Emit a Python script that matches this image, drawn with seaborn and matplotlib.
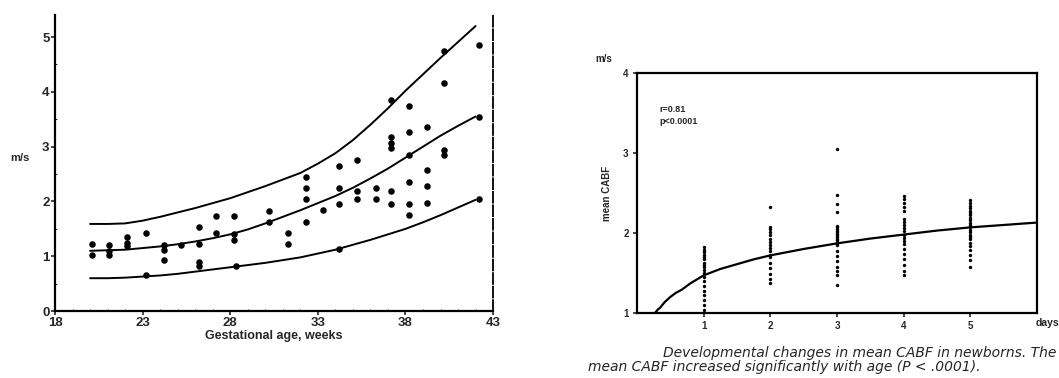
import numpy as np
import pandas as pd
import matplotlib
matplotlib.use("Agg")
import matplotlib.pyplot as plt
import seaborn as sns

# ---------------- Left panel data (gestational age vs velocity) ----------------
ga_weeks = [20.1, 20.1, 21.1, 21.1, 21.1, 22.1, 22.1, 22.1, 23.2, 23.2,
            24.2, 24.2, 24.2, 25.2, 26.2, 26.2, 26.2, 26.2, 27.2, 27.2,
            28.2, 28.2, 28.2, 28.3, 30.2, 30.2, 31.3, 31.3, 32.3, 32.3,
            32.3, 32.3, 33.3, 34.2, 34.2, 34.2, 34.2, 35.25, 35.25, 35.25,
            36.3, 36.3, 37.2, 37.2, 37.2, 37.2, 37.2, 37.2, 38.2, 38.2,
            38.2, 38.2, 38.2, 38.2, 39.25, 39.25, 39.25, 39.25, 40.2, 40.2,
            40.2, 40.2, 42.2, 42.2, 42.2]
ga_velocity = [1.22, 1.02, 1.20, 1.10, 1.02, 1.35, 1.25, 1.18, 1.42, 0.66,
               1.20, 1.12, 0.93, 1.20, 1.53, 1.22, 0.90, 0.82, 1.73, 1.42,
               1.73, 1.40, 1.30, 0.83, 1.83, 1.63, 1.42, 1.22, 2.45, 2.25,
               2.05, 1.63, 1.84, 2.65, 2.25, 1.96, 1.14, 2.75, 2.20, 2.05,
               2.25, 2.05, 3.85, 3.17, 3.07, 2.97, 2.20, 1.96, 3.74, 3.27,
               2.85, 2.35, 1.96, 1.76, 3.36, 2.57, 2.28, 1.98, 4.75, 4.16,
               2.94, 2.85, 4.86, 3.54, 2.05]

curve_weeks = [20, 21, 22, 23, 24, 25, 26, 27, 28, 29, 30, 31,
               32, 33, 34, 35, 36, 37, 38, 39, 40, 41, 42]
upper_curve = [1.59, 1.59, 1.60, 1.65, 1.72, 1.80, 1.88, 1.97, 2.06, 2.17, 2.28, 2.40,
               2.52, 2.69, 2.88, 3.12, 3.40, 3.70, 4.02, 4.32, 4.62, 4.91, 5.20]
middle_curve = [1.10, 1.11, 1.12, 1.15, 1.18, 1.22, 1.27, 1.33, 1.40, 1.49, 1.60, 1.72,
                1.84, 1.97, 2.10, 2.25, 2.42, 2.60, 2.80, 3.00, 3.20, 3.38, 3.55]
lower_curve = [0.60, 0.60, 0.61, 0.63, 0.65, 0.68, 0.72, 0.76, 0.80, 0.84, 0.88, 0.93,
               0.98, 1.05, 1.12, 1.21, 1.30, 1.40, 1.50, 1.62, 1.75, 1.89, 2.03]

left_xticks = [18, 23, 28, 33, 38, 43]
left_xticklabels = ["18", "23", "28", "33", "38", "43"]
left_yticks = [0, 1, 2, 3, 4, 5]

# ---------------- Right panel data (postnatal days vs mean CABF) ----------------
day1 = [1.82, 1.79, 1.76, 1.73, 1.70, 1.67, 1.63, 1.60, 1.57, 1.54, 1.50,
        1.45, 1.40, 1.34, 1.28, 1.22, 1.16, 1.10, 1.04]
day2 = [2.33, 2.08, 2.05, 2.01, 1.97, 1.93, 1.89, 1.85, 1.81, 1.77, 1.73,
        1.70, 1.62, 1.56, 1.49, 1.43, 1.38]
day3 = [3.05, 2.48, 2.36, 2.26, 2.09, 2.07, 2.05, 2.03, 2.01, 1.99, 1.97,
        1.95, 1.93, 1.91, 1.89, 1.87, 1.85, 1.77, 1.71, 1.65, 1.58, 1.52,
        1.47, 1.35]
day4 = [2.46, 2.42, 2.38, 2.33, 2.28, 2.18, 2.14, 2.10, 2.06, 2.02, 1.98,
        1.94, 1.90, 1.86, 1.80, 1.74, 1.67, 1.60, 1.53, 1.47]
day5 = [2.41, 2.37, 2.34, 2.31, 2.28, 2.25, 2.22, 2.19, 2.16, 2.13, 2.10,
        2.07, 2.04, 2.01, 1.98, 1.95, 1.92, 1.88, 1.84, 1.79, 1.72, 1.66, 1.58]

fit_days = [0.27, 0.31, 0.35, 0.42, 0.50, 0.58, 0.67, 0.80, 0.90, 1.0, 1.25, 1.5,
            1.75, 2.0, 2.5, 3.0, 3.5, 4.0, 4.5, 5.0, 5.5, 6.0]
fit_cabf = [1.00, 1.04, 1.07, 1.14, 1.20, 1.25, 1.29, 1.37, 1.42, 1.47, 1.55, 1.61,
            1.67, 1.72, 1.80, 1.87, 1.93, 1.98, 2.03, 2.07, 2.10, 2.13]

right_xticks = [1, 2, 3, 4, 5]
right_yticks = [1, 2, 3, 4]

# ---------------- Build frames ----------------
left_df = pd.DataFrame({"week": ga_weeks, "vel": ga_velocity})
curves_df = pd.DataFrame({
    "week": curve_weeks * 3,
    "vel": upper_curve + middle_curve + lower_curve,
    "curve": ["upper"] * len(curve_weeks) + ["middle"] * len(curve_weeks) + ["lower"] * len(curve_weeks),
})
day_lists = [day1, day2, day3, day4, day5]
right_df = pd.DataFrame({
    "day": [d + 1 for d, vals in enumerate(day_lists) for _ in vals],
    "cabf": [v for vals in day_lists for v in vals],
})
fit_df = pd.DataFrame({"day": fit_days, "cabf": fit_cabf})

# ---------------- Style ----------------
sns.set_theme(style="ticks")
plt.rcParams["font.family"] = ["Liberation Sans", "DejaVu Sans"]
plt.rcParams["axes.linewidth"] = 1.6
plt.rcParams["axes.edgecolor"] = "black"

fig = plt.figure(figsize=(10.59, 3.78), dpi=100)
fig.patch.set_facecolor("white")

# ---------------- Left panel ----------------
ax1 = fig.add_axes([0.052, 0.177, 0.4136, 0.783])
sns.lineplot(data=curves_df, x="week", y="vel", units="curve", estimator=None,
             color="black", linewidth=1.4, sort=True, ax=ax1)
sns.scatterplot(data=left_df, x="week", y="vel", color="black", s=22,
                edgecolor="black", linewidth=0, ax=ax1)
ax1.set_xlim(18, 43)
ax1.set_ylim(0, 5.4)
ax1.set_xticks(left_xticks)
ax1.set_xticklabels(left_xticklabels)
ax1.set_yticks(left_yticks)
ax1.set_xticks(np.arange(18, 43.5, 1), minor=True)
ax1.set_yticks(np.arange(0, 5.5, 0.5), minor=True)
ax1.tick_params(axis="both", which="major", length=3, width=1.2, labelsize=9.5, pad=1)
ax1.tick_params(axis="both", which="minor", length=1.5, width=0.7, direction="in")
for lab in ax1.get_xticklabels() + ax1.get_yticklabels():
    lab.set_fontweight("bold")
ax1.spines["top"].set_visible(False)
ax1.spines["right"].set_linestyle((0, (6, 1.5)))
ax1.spines["right"].set_linewidth(1.3)
ax1.set_xlabel("Gestational age, weeks", fontsize=9, fontweight="bold", labelpad=1)
ax1.set_ylabel("m/s", fontsize=8, fontweight="bold", rotation=0)
ax1.yaxis.set_label_coords(-0.08, 0.50)

# ---------------- Right panel ----------------
ax2 = fig.add_axes([0.6015, 0.172, 0.3777, 0.635])
sns.scatterplot(data=right_df, x="day", y="cabf", color="black", s=6,
                edgecolor="black", linewidth=0, ax=ax2)
sns.lineplot(data=fit_df, x="day", y="cabf", color="black", linewidth=1.6,
             estimator=None, ax=ax2)
ax2.set_xlim(0, 6)
ax2.set_ylim(1, 4)
ax2.set_xticks(right_xticks)
ax2.set_yticks(right_yticks)
ax2.tick_params(axis="both", length=3, width=1.2, labelsize=7, pad=3)
for lab in ax2.get_xticklabels() + ax2.get_yticklabels():
    lab.set_fontweight("bold")
for sp in ax2.spines.values():
    sp.set_linewidth(1.6)
ax2.set_xlabel("")
ax2.set_ylabel("mean CABF", fontsize=7, fontweight="bold", labelpad=8)
ax2.text(6.15, 0.87, "days", fontsize=7.5, fontweight="bold", ha="center",
         va="center", clip_on=False)
ax2.text(-0.5, 4.18, "m/s", fontsize=7, fontweight="bold", ha="center",
         va="center", clip_on=False)
ax2.text(0.34, 3.54, "r=0.81", fontsize=6.5, fontweight="bold", ha="left", va="center")
ax2.text(0.34, 3.39, "p<0.0001", fontsize=6.5, fontweight="bold", ha="left", va="center")

# ---------------- Caption ----------------
cap_font = ["DejaVu Sans"]
fig.text(0.626, 1 - 353 / 378, "Developmental changes in mean CABF in newborns. The",
         fontsize=10, fontstyle="italic", family=cap_font, ha="left", va="center")
fig.text(0.555, 1 - 367 / 378, "mean CABF increased significantly with age (P < .0001).",
         fontsize=10, fontstyle="italic", family=cap_font, ha="left", va="center")

fig.savefig("out.png", dpi=100, facecolor="white")
